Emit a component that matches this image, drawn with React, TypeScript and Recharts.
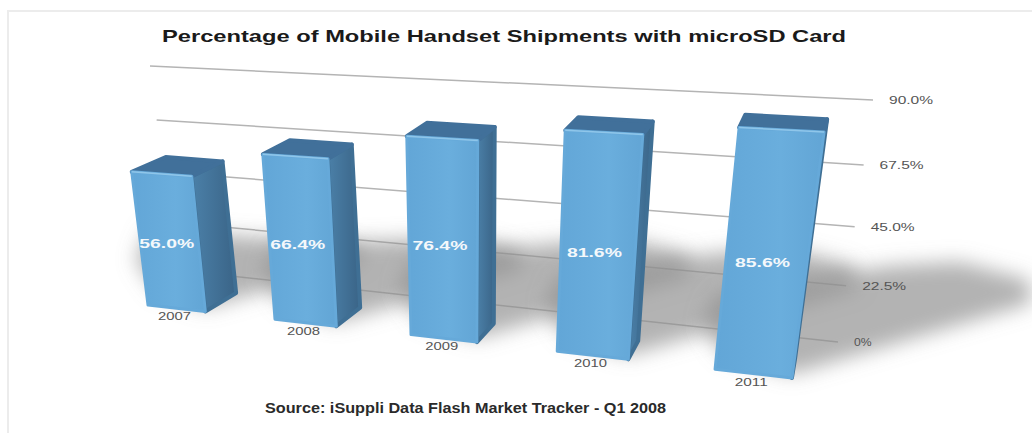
import { BarChart, Bar, XAxis, YAxis, CartesianGrid, LabelList } from "recharts";

const years = ["2007", "2008", "2009", "2010", "2011"];
const shares = [56.0, 66.4, 76.4, 81.6, 85.6];
const scaleTicks = [0, 22.5, 45, 67.5, 90];
const scaleLabels = ["0%", "22.5%", "45.0%", "67.5%", "90.0%"];

const rows = years.map((year, i) => ({ year, share: shares[i] }));

const W = 1032;
const H = 433;
const M = 60;
const AXIS = 20;
// flat plot rectangle that recharts lays out, before the perspective step
const PLOT = { x0: M + AXIS, x1: W - M, y0: M, y1: H - M - AXIS };
const GAP = 0.27;
const band = (PLOT.x1 - PLOT.x0) / years.length;
const BARS = { x0: PLOT.x0 + band * GAP, x1: PLOT.x1 - band * GAP, y0: PLOT.y0, y1: PLOT.y1 };

type Pt = [number, number];
type Rect = { x0: number; x1: number; y0: number; y1: number };

// homography from a flat rectangle to a quad (tl, tr, br, bl)
function makeProjection(src: Rect, q: [Pt, Pt, Pt, Pt]) {
  const [[x0, y0], [x1, y1], [x2, y2], [x3, y3]] = q;
  const dx1 = x1 - x2;
  const dx2 = x3 - x2;
  const sx = x0 - x1 + x2 - x3;
  const dy1 = y1 - y2;
  const dy2 = y3 - y2;
  const sy = y0 - y1 + y2 - y3;
  const den = dx1 * dy2 - dx2 * dy1;
  const g = (sx * dy2 - dx2 * sy) / den;
  const h = (dx1 * sy - sx * dy1) / den;
  const a = x1 - x0 + g * x1;
  const b = x3 - x0 + h * x3;
  const d = y1 - y0 + g * y1;
  const e = y3 - y0 + h * y3;
  return (x: number, y: number): Pt => {
    const u = (x - src.x0) / (src.x1 - src.x0);
    const v = (y - src.y0) / (src.y1 - src.y0);
    const w = g * u + h * v + 1;
    return [(a * u + b * v + x0) / w, (d * u + e * v + y0) / w];
  };
}

// back wall with the grid
const wall = makeProjection(PLOT, [[150, 66], [873, 100], [838, 342], [175, 270]]);
const frontPlane = makeProjection(BARS, [[121, 84], [826, 118], [792, 378], [148, 305]]);

const across = (x: number) => (x - BARS.x0) / (BARS.x1 - BARS.x0);
const down = (y: number) => (y - BARS.y0) / (BARS.y1 - BARS.y0);

// front faces of the columns, eased a little so the spacing stays even
const front = (x: number, y: number): Pt => {
  const [px, py] = frontPlane(x, y);
  const u = across(x);
  return [px + 7 * u * (1 - u), py];
};

// rear edges: the depth offset shrinks toward the vanishing side on the right
const rear = (x: number, y: number): Pt => {
  const [px, py] = front(x, y);
  return [px + 34 - 31 * across(x), py - 12.5 - 6 * down(y)];
};

const poly = (pts: Pt[]) => pts.map((p) => p.join(",")).join(" ");

const GridLine = (props: any) => {
  const a = wall(props.x1, props.y1);
  const b = wall(props.x2, props.y2);
  return <line key={props.key} x1={a[0]} y1={a[1]} x2={b[0]} y2={b[1]} stroke="#b4b4b4" strokeWidth={1.5} />;
};

const ScaleTick = (props: any) => {
  const [px, py] = wall(PLOT.x1, props.y);
  const label = scaleLabels[scaleTicks.indexOf(props.payload.value)];
  return (
    <text
      x={px + 16}
      y={py + 4}
      fontFamily="Liberation Sans"
      fontSize={11}
      fill="#555"
      textLength={label.length * 8.8}
      lengthAdjust="spacingAndGlyphs"
    >
      {label}
    </text>
  );
};

const YearTick = (props: any) => {
  const [px, py] = front(props.x, PLOT.y1);
  return (
    <text
      x={px - 2}
      y={py + 12}
      textAnchor="middle"
      fontFamily="Liberation Sans"
      fontSize={11}
      fill="#555"
      textLength={33}
      lengthAdjust="spacingAndGlyphs"
    >
      {props.payload.value}
    </text>
  );
};

// floor shadow thrown to the right, length follows the column height
const ColumnShadow = (props: any) => {
  const { x, y, width, height } = props;
  const s = height / ((PLOT.y1 - PLOT.y0) * 0.951);
  const [bx, by] = front(x + width, y + height);
  const [lx, ly] = front(x, y + height);
  const pts: Pt[] = [
    [bx, by - 4],
    [bx + 240 * s, by - 75 * s],
    [bx + 237 * s, by - 98 * s],
    [bx + 168 * s, by - 116 * s],
    [bx + 98 * s, by - 112 * s],
    [lx, ly - 75],
    [lx - 12, ly - 45],
    [lx + 8, ly - 15],
  ];
  return <polygon points={poly(pts)} fill="#8f8f8f" fillOpacity={0.68} filter="url(#floorBlur)" />;
};

const Column = (props: any) => {
  const { x, y, width, height } = props;
  const tl = front(x, y);
  const tr = front(x + width, y);
  const br = front(x + width, y + height);
  const bl = front(x, y + height);
  const btl = rear(x, y);
  const btr = rear(x + width, y);
  const bbr = rear(x + width, y + height);
  return (
    <g strokeLinejoin="round">
      <polygon points={poly([tr, btr, bbr, br])} fill="url(#sideFill)" stroke="#3f6f94" strokeWidth={4} />
      <polygon points={poly([tl, btl, btr, tr])} fill="#41709a" stroke="#41709a" strokeWidth={4} />
      <polygon points={poly([tl, tr, br, bl])} fill="url(#faceFill)" stroke="#66a9d9" strokeWidth={3} />
      <line x1={tl[0]} y1={tl[1]} x2={tr[0]} y2={tr[1]} stroke="#8fc6ea" strokeWidth={1.5} />
    </g>
  );
};

const ShareLabel = (props: any) => {
  const { x, y, width, height, value } = props;
  const [px, py] = front(x + width / 2, y + height * 0.535);
  return (
    <text
      x={px - 3}
      y={py + 1}
      textAnchor="middle"
      fontFamily="Liberation Sans"
      fontWeight="bold"
      fontSize={13}
      fill="#f4f8fb"
      textLength={55}
      lengthAdjust="spacingAndGlyphs"
    >
      {value.toFixed(1)}%
    </text>
  );
};

export default function App() {
  return (
    <div
      style={{
        position: "fixed",
        left: 0,
        top: 0,
        width: W,
        height: H,
        background: "#fff",
      }}
    >
      <div
        style={{
          position: "absolute",
          left: 7,
          top: 10,
          right: 0,
          bottom: 0,
          borderTop: "2px solid #ececec",
          borderLeft: "2px solid #ececec",
        }}
      />
      <BarChart
        width={W}
        height={H}
        data={rows}
        margin={{ top: M, right: M, bottom: M, left: M }}
        barCategoryGap={`${GAP * 100}%`}
        style={{ position: "absolute", left: 0, top: 0 }}
      >
        <defs>
          <filter id="floorBlur" filterUnits="userSpaceOnUse" x={0} y={0} width={W} height={H}>
            <feGaussianBlur stdDeviation={10} />
          </filter>
          <linearGradient id="faceFill" x1="0" y1="0" x2="1" y2="0">
            <stop offset="0" stopColor="#62a6d7" />
            <stop offset="0.6" stopColor="#6aaedd" />
            <stop offset="1" stopColor="#62a5d5" />
          </linearGradient>
          <linearGradient id="sideFill" x1="0" y1="0" x2="1" y2="0">
            <stop offset="0" stopColor="#4b80a8" />
            <stop offset="1" stopColor="#3a6487" />
          </linearGradient>
        </defs>
        <text x={162} y={42} fontFamily="Liberation Sans" fontWeight="bold" fontSize={17} fill="#1a1a1a" textLength={684} lengthAdjust="spacingAndGlyphs">
          Percentage of Mobile Handset Shipments with microSD Card
        </text>
        <text x={265} y={413} fontFamily="Liberation Sans" fontWeight="bold" fontSize={14} fill="#2a2a2a" textLength={401} lengthAdjust="spacingAndGlyphs">
          Source: iSuppli Data Flash Market Tracker - Q1 2008
        </text>
        <CartesianGrid horizontal={GridLine} vertical={false} />
        <XAxis dataKey="year" height={AXIS} axisLine={false} tickLine={false} interval={0} tick={YearTick} />
        <XAxis xAxisId="floor" dataKey="year" hide />
        <YAxis width={AXIS} domain={[0, 90]} ticks={scaleTicks} interval={0} axisLine={false} tickLine={false} tick={ScaleTick} />
        <Bar xAxisId="floor" dataKey="share" shape={ColumnShadow} isAnimationActive={false} />
        <Bar dataKey="share" shape={Column} isAnimationActive={false}>
          <LabelList dataKey="share" content={ShareLabel} />
        </Bar>
      </BarChart>
    </div>
  );
}
